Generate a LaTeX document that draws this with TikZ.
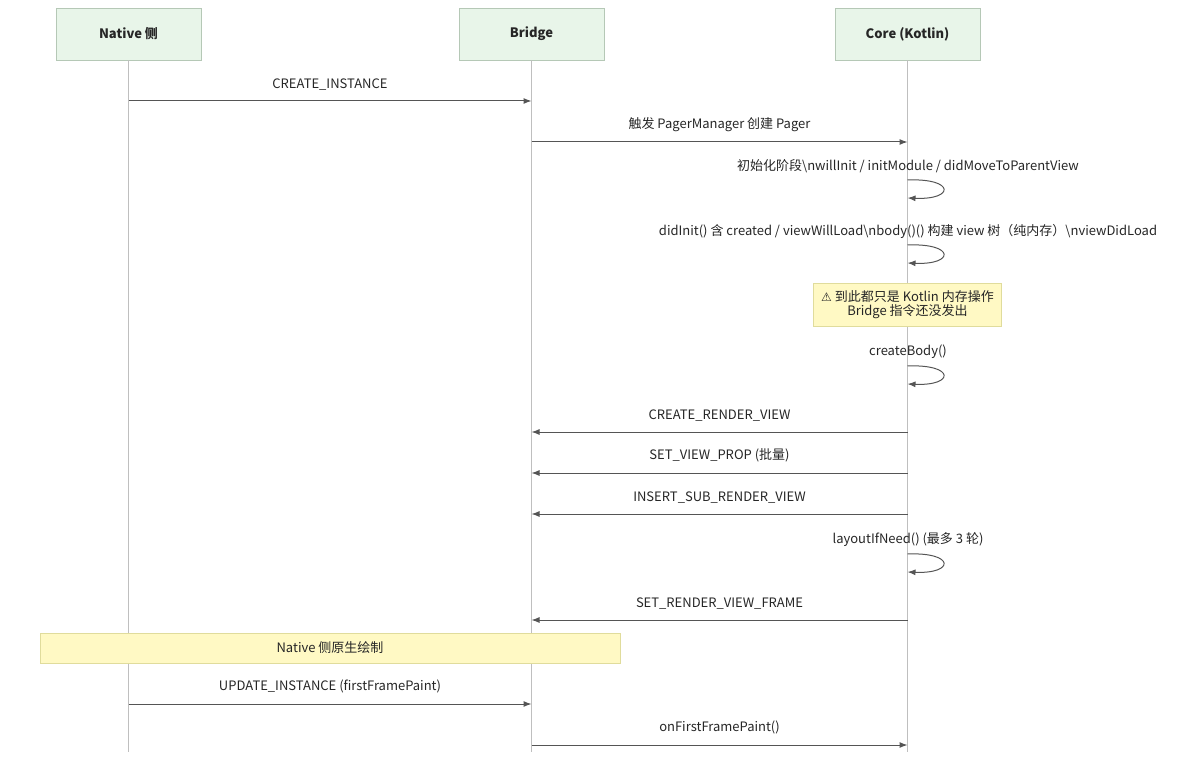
\documentclass[tikz,border=0pt]{standalone}
\usepackage{fontspec}
\setmainfont{Noto Sans CJK SC}
\newfontfamily\dejavu{DejaVu Sans}
\usetikzlibrary{arrows.meta}
\definecolor{hdrfill}{HTML}{E8F5E9}
\definecolor{hdrdraw}{HTML}{B5C8B6}
\definecolor{notefill}{HTML}{FFF9C4}
\definecolor{notedraw}{HTML}{E0DC9C}
\definecolor{ln}{HTML}{555555}
\begin{document}
\begin{tikzpicture}[x=1pt,y=-1pt,
  hdr/.style={draw=hdrdraw,fill=hdrfill,minimum width=145pt,minimum height=52pt,inner sep=0pt,font=\fontsize{13}{15}\selectfont\bfseries,text=black!85},
  life/.style={draw=black!25,line width=1.2pt},
  msg/.style={draw=ln,line width=1pt,-{Latex[length=8pt,width=6pt]}},
  lbl/.style={font=\fontsize{13}{15}\selectfont,text=black!85,inner sep=0pt},
  note/.style={draw=notedraw,fill=notefill,inner sep=0pt,font=\fontsize{13}{14}\selectfont,text=black!85,align=center}]
\useasboundingbox (0,0) rectangle (1184,759);
\node[hdr] (A) at (128.5,34) {Native 侧};
\node[hdr] (B) at (531.5,34) {Bridge};
\node[hdr] (C) at (907.5,34) {Core (Kotlin)};
\coordinate (Ae) at (128.5,752); \coordinate (Be) at (531.5,752); \coordinate (Ce) at (907.5,752);
\draw[life] (A.south) -- (Ae); \draw[life] (B.south) -- (Be); \draw[life] (C.south) -- (Ce);
% helper coordinates
\foreach \n/\y in {1/101,2/142,6/432,7/473,8/514,10/620,11/704,12/745}{
  \coordinate (a\n) at (128.5,\y); \coordinate (b\n) at (531.5,\y); \coordinate (c\n) at (907.5,\y);}
\draw[msg] (a1) -- node[lbl,above=10pt]{CREATE\_INSTANCE} (b1);
\draw[msg] (b2) -- node[lbl,above=10pt]{触发 PagerManager 创建 Pager} (c2);
\draw[msg] (c6) -- node[lbl,above=10pt]{CREATE\_RENDER\_VIEW} (b6);
\draw[msg] (c7) -- node[lbl,above=10pt]{SET\_VIEW\_PROP (批量)} (b7);
\draw[msg] (c8) -- node[lbl,above=10pt]{INSERT\_SUB\_RENDER\_VIEW} (b8);
\draw[msg] (c10) -- node[lbl,above=10pt]{SET\_RENDER\_VIEW\_FRAME} (b10);
\draw[msg] (a11) -- node[lbl,above=10pt]{UPDATE\_INSTANCE (firstFramePaint)} (b11);
\draw[msg] (b12) -- node[lbl,above=10pt]{onFirstFramePaint()} (c12);
% self loops
\foreach \n/\ya/\yb/\t in {3/180/198/{初始化阶段\textbackslash nwillInit / initModule / didMoveToParentView},
  4/245/263/{didInit() 含 created / viewWillLoad\textbackslash nbody()() 构建 view 树（纯内存）\textbackslash nviewDidLoad},
  5/366/384/{createBody()},
  9/554/572/{layoutIfNeed() (最多 3 轮)}}{
  \coordinate (s\n) at (907.5,\ya); \coordinate (e\n) at (907.5,\yb);
  \node[lbl] at (908,\ya-14) {\t};
  \draw[msg] (s\n) .. controls (955,\ya-2) and (955,\yb+2) .. (e\n);
}
\node[note,minimum width=188pt,minimum height=43pt] (n1) at (907.5,304.5) {{\dejavu\fontsize{12}{14}\selectfont ⚠} 到此都只是 Kotlin 内存操作\\Bridge 指令还没发出};
\node[note,minimum width=580pt,minimum height=30pt] (n2) at (330,648) {Native 侧原生绘制};
\end{tikzpicture}
\end{document}
